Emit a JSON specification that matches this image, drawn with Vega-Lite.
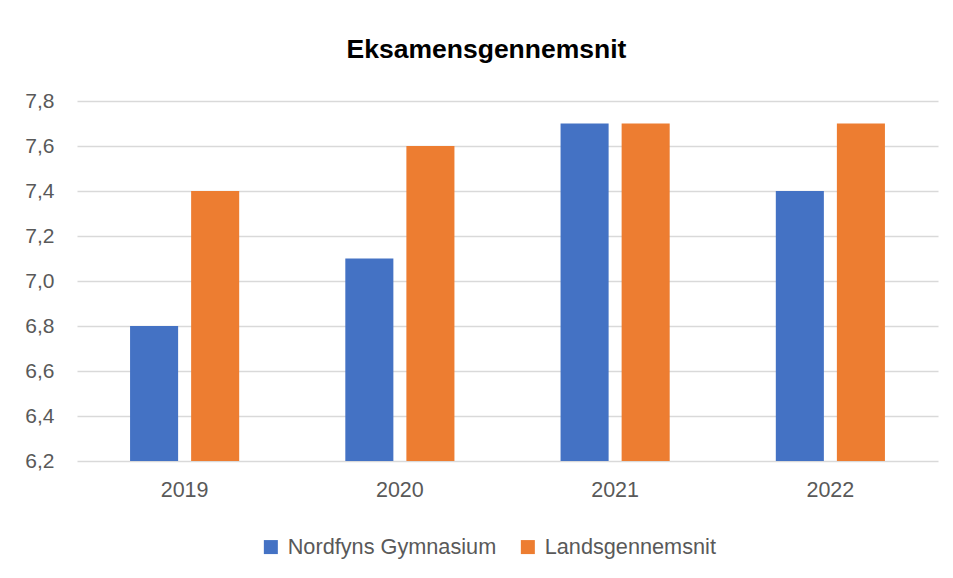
{
  "$schema": "https://vega.github.io/schema/vega-lite/v6.json",
  "width": 861,
  "height": 360,
  "autosize": {"type": "none"},
  "padding": {"left": 77, "top": 101, "right": 15, "bottom": 117},
  "background": "white",
  "title": {
    "text": "Eksamensgennemsnit",
    "font": "Liberation Sans",
    "fontSize": 26.5,
    "fontWeight": "bold",
    "color": "#000000",
    "anchor": "middle",
    "baseline": "alphabetic",
    "offset": 6,
    "dx": -21
  },
  "data": {
    "values": [
      {"year": "2019", "series": "Nordfyns Gymnasium", "value": 6.8},
      {"year": "2019", "series": "Landsgennemsnit", "value": 7.4},
      {"year": "2020", "series": "Nordfyns Gymnasium", "value": 7.1},
      {"year": "2020", "series": "Landsgennemsnit", "value": 7.6},
      {"year": "2021", "series": "Nordfyns Gymnasium", "value": 7.7},
      {"year": "2021", "series": "Landsgennemsnit", "value": 7.7},
      {"year": "2022", "series": "Nordfyns Gymnasium", "value": 7.4},
      {"year": "2022", "series": "Landsgennemsnit", "value": 7.7}
    ]
  },
  "mark": {"type": "bar"},
  "encoding": {
    "x": {
      "field": "year",
      "type": "nominal",
      "scale": {"paddingInner": 0.493, "paddingOuter": 0.2465},
      "axis": {
        "title": null,
        "labelAngle": 0,
        "domain": false,
        "ticks": false,
        "labelFont": "Liberation Sans",
        "labelFontSize": 21.5,
        "labelColor": "#595959",
        "labelPadding": 18
      }
    },
    "xOffset": {
      "field": "series",
      "type": "nominal",
      "sort": ["Nordfyns Gymnasium", "Landsgennemsnit"],
      "scale": {"paddingInner": 0.213, "paddingOuter": 0}
    },
    "y": {
      "field": "value",
      "type": "quantitative",
      "scale": {"domain": [6.2, 7.8], "zero": false, "nice": false},
      "axis": {
        "title": null,
        "values": [6.2, 6.4, 6.6, 6.8, 7.0, 7.2, 7.4, 7.6, 7.8],
        "labelExpr": "replace(format(datum.value, '.1f'), '.', ',')",
        "domain": false,
        "ticks": false,
        "grid": true,
        "gridColor": "#d9d9d9",
        "gridWidth": 1.3,
        "labelFont": "Liberation Sans",
        "labelFontSize": 21,
        "labelColor": "#595959",
        "labelPadding": 23
      }
    },
    "y2": {"datum": 6.2},
    "color": {
      "field": "series",
      "type": "nominal",
      "scale": {
        "domain": ["Nordfyns Gymnasium", "Landsgennemsnit"],
        "range": ["#4472C4", "#ED7D31"]
      },
      "legend": {
        "title": null,
        "orient": "none",
        "direction": "horizontal",
        "legendX": 183,
        "legendY": 435,
        "symbolType": "square",
        "symbolSize": 196,
        "symbolStrokeWidth": 0,
        "labelFont": "Liberation Sans",
        "labelFontSize": 21.7,
        "labelColor": "#595959",
        "labelOffset": 6,
        "labelLimit": 400,
        "columnPadding": 20
      }
    }
  },
  "config": {
    "view": {"stroke": null}
  }
}
